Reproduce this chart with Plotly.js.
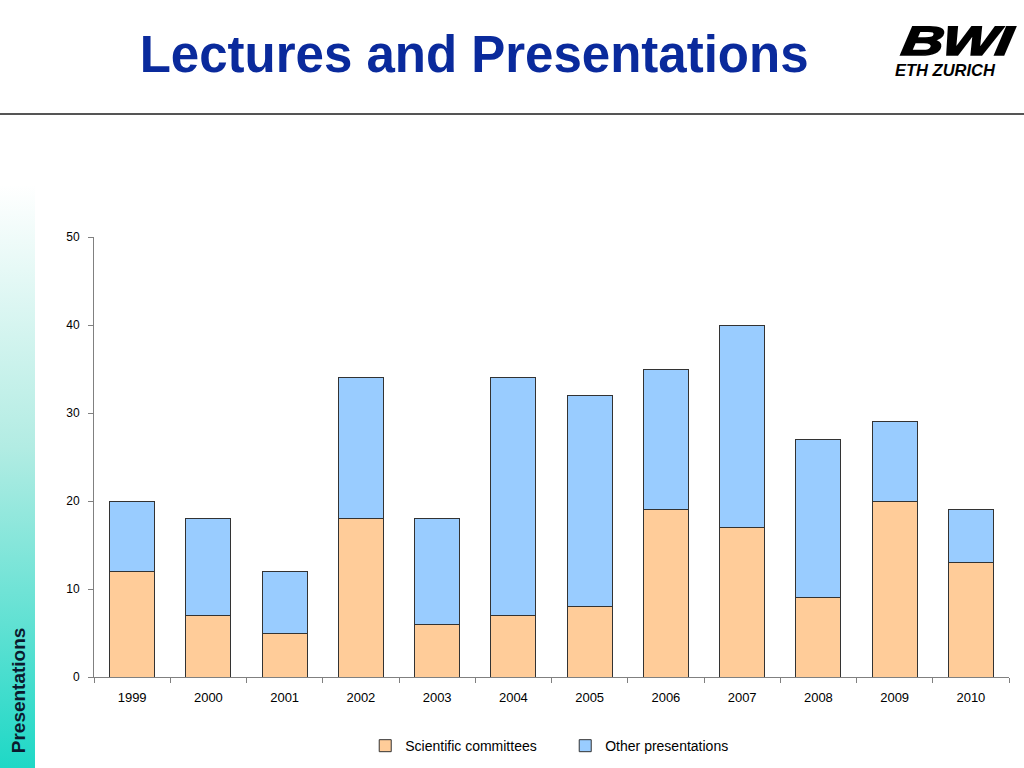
<!DOCTYPE html>
<html>
<head>
<meta charset="utf-8">
<script src="https://cdn.plot.ly/plotly-3.0.1.min.js"></script>
<style>
  body { margin: 0; background: #ffffff; }
  #wrap { position: relative; width: 1024px; height: 768px; overflow: hidden; }
  #sidebar {
    position: absolute; left: 0; top: 185px; width: 35px; height: 583px;
    background: linear-gradient(to bottom, #ffffff 0%, #b2ece3 45%, #1ed8c6 100%);
  }
  #logo { position: absolute; left: 893px; top: 22px; width: 125px; font-family: "Liberation Sans", Arial, sans-serif; font-style: italic; font-weight: bold; color: #000; }
  #logo .bwi { font-size: 41px; line-height: 38px; transform: scaleX(1.42) skewX(-6deg); transform-origin: left; margin-left: 9px; letter-spacing: -1px; -webkit-text-stroke: 1.6px #000; }
  #logo .eth { font-size: 16.5px; line-height: 16px; margin-top: 2px; margin-left: 2px; }
  #chart { position: absolute; left: 0; top: 0; width: 1024px; height: 768px; }
</style>
</head>
<body>
<div id="wrap">
  <div id="sidebar"></div>
  <div id="logo"><div class="bwi">BWI</div><div class="eth">ETH ZURICH</div></div>
  <div id="chart"></div>
</div>
<script>
const Plotly = window.Plotly;

const years = ["1999", "2000", "2001", "2002", "2003", "2004", "2005", "2006", "2007", "2008", "2009", "2010"];
const scientificCommittees = [12, 7, 5, 18, 6, 7, 8, 19, 17, 9, 20, 13];
const otherPresentations = [8, 11, 7, 16, 12, 27, 24, 16, 23, 18, 9, 6];

const barLine = { color: "#333333", width: 1 };

const traceScientific = {
    x: years,
    y: scientificCommittees,
    name: "Scientific committees",
    type: "bar",
    marker: { color: "#ffcc99", line: barLine },
    hoverinfo: "y+name"
};

const traceOther = {
    x: years,
    y: otherPresentations,
    name: "Other presentations",
    type: "bar",
    marker: { color: "#99ccff", line: barLine },
    hoverinfo: "y+name"
};

const layout = {
    width: 1024,
    height: 768,
    margin: { l: 94, r: 15, t: 237, b: 91, autoexpand: false },
    paper_bgcolor: "rgba(0,0,0,0)",
    plot_bgcolor: "rgba(0,0,0,0)",
    font: { family: "Liberation Sans, Arial, sans-serif", color: "#000000", size: 12 },
    barmode: "stack",
    bargap: 0.41,
    title: {
        text: "<b>Lectures and Presentations</b>",
        font: { size: 51, color: "#0a2a9c", family: "Liberation Sans, Arial, sans-serif" },
        xref: "container",
        x: 0.463,
        xanchor: "center",
        yref: "container",
        y: 0.93,
        yanchor: "middle"
    },
    xaxis: {
        type: "category",
        showline: true,
        linecolor: "#808080",
        linewidth: 1,
        ticks: "outside",
        tickson: "boundaries",
        ticklen: 5,
        tickcolor: "#808080",
        tickfont: { size: 13 },
        ticklabelstandoff: 8,
        showgrid: false,
        zeroline: false,
        fixedrange: true
    },
    yaxis: {
        range: [0, 50],
        dtick: 10,
        showline: true,
        linecolor: "#808080",
        linewidth: 1,
        ticks: "outside",
        ticklen: 5,
        tickcolor: "#808080",
        tickfont: { size: 12 },
        ticklabelstandoff: 6,
        showgrid: false,
        zeroline: false,
        fixedrange: true
    },
    legend: {
        orientation: "h",
        x: 0.515,
        xanchor: "center",
        y: -0.157,
        yanchor: "middle",
        font: { size: 14 },
        entrywidth: 155,
        traceorder: "normal"
    },
    showlegend: true,
    shapes: [
        {
            type: "line",
            xref: "paper", yref: "paper",
            x0: -0.103, x1: 1.02,
            y0: 1.2795, y1: 1.2795,
            line: { color: "#555555", width: 2 }
        }
    ],
    annotations: [
        {
            text: "<b>Presentations</b>",
            xref: "paper", yref: "paper",
            x: -0.083, y: -0.03,
            xanchor: "center", yanchor: "middle",
            textangle: -90,
            showarrow: false,
            font: { size: 19, color: "#0b1a2e" }
        }
    ]
};

Plotly.newPlot("chart", [traceScientific, traceOther], layout, { displayModeBar: false, staticPlot: true });
</script>
</body>
</html>
